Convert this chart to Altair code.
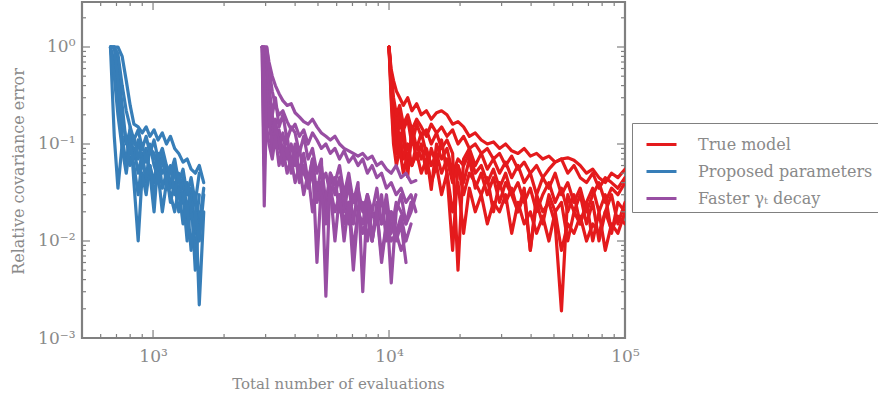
import altair as alt
import pandas as pd

# ---------------- data ----------------
groups = ["True model", "Proposed parameters", "Faster γₜ decay"]
colors = ["#e41a1c", "#377eb8", "#984ea3"]

blue_x = [660, 685, 710, 740, 770, 800, 830, 865, 900, 935, 970, 1010, 1050,
          1095, 1140, 1185, 1235, 1285, 1340, 1395, 1450, 1510, 1570, 1640]
blue_runs = [
    [1.0, 1.0, 1.0, 0.80, 0.45, 0.25, 0.16, 0.15, 0.13, 0.15, 0.12, 0.14, 0.11, 0.13, 0.10, 0.12, 0.09, 0.08, 0.065, 0.07, 0.055, 0.05, 0.06, 0.04],
    [1.0, 0.12, 0.035, 0.10, 0.12, 0.06, 0.09, 0.05, 0.08, 0.04, 0.10, 0.06, 0.045, 0.08, 0.05, 0.035, 0.06, 0.03, 0.045, 0.02, 0.035, 0.012, 0.03],
    [1.0, 1.0, 0.6, 0.25, 0.10, 0.14, 0.07, 0.11, 0.06, 0.09, 0.05, 0.02, 0.07, 0.05, 0.06, 0.04, 0.05, 0.03, 0.04, 0.015, 0.03, 0.005, 0.02],
    [1.0, 0.7, 0.35, 0.12, 0.06, 0.15, 0.04, 0.01, 0.05, 0.03, 0.06, 0.04, 0.08, 0.035, 0.05, 0.025, 0.04, 0.02, 0.03, 0.01, 0.025, 0.008, 0.015, 0.035],
    [1.0, 1.0, 0.45, 0.18, 0.11, 0.08, 0.12, 0.07, 0.10, 0.065, 0.09, 0.08, 0.055, 0.07, 0.04, 0.06, 0.03, 0.05, 0.025, 0.04, 0.02, 0.03, 0.0022, 0.02],
    [1.0, 0.5, 0.2, 0.09, 0.05, 0.10, 0.06, 0.03, 0.07, 0.045, 0.06, 0.03, 0.05, 0.02, 0.04, 0.03, 0.02, 0.035, 0.015, 0.025, 0.008, 0.02, 0.01, 0.03],
    [1.0, 1.0, 0.85, 0.4, 0.22, 0.15, 0.11, 0.14, 0.09, 0.12, 0.08, 0.11, 0.07, 0.09, 0.06, 0.05, 0.07, 0.04, 0.055, 0.03, 0.045, 0.025, 0.05],
]

purple_x = [2900, 2960, 3030, 3100, 3200, 3300, 3420, 3550, 3700, 3850, 4000, 4170,
            4350, 4540, 4740, 4950, 5170, 5400, 5640, 5900, 6170, 6450, 6750, 7060,
            7390, 7740, 8100, 8480, 8880, 9300, 9750, 10220, 10720, 11250, 11800,
            12400, 13000]
purple_runs = [
    [1.0, 1.0, 1.0, 0.7, 0.5, 0.4, 0.33, 0.28, 0.25, 0.26, 0.21, 0.19, 0.17, 0.16, 0.18, 0.15, 0.13, 0.12, 0.11, 0.12, 0.10, 0.09, 0.085, 0.08, 0.075, 0.08, 0.07, 0.075, 0.06, 0.065, 0.055, 0.05, 0.06, 0.045, 0.05, 0.04, 0.042],
    [1.0, 0.023, 0.3, 0.15, 0.2, 0.1, 0.14, 0.08, 0.12, 0.06, 0.1, 0.05, 0.08, 0.04, 0.07, 0.03, 0.06, 0.025, 0.05, 0.03, 0.045, 0.02, 0.04, 0.015, 0.035, 0.02, 0.03, 0.01, 0.025, 0.015, 0.03, 0.012, 0.025, 0.02, 0.015, 0.02, 0.03],
    [1.0, 1.0, 0.5, 0.25, 0.12, 0.18, 0.09, 0.13, 0.07, 0.10, 0.06, 0.09, 0.05, 0.04, 0.07, 0.006, 0.04, 0.05, 0.03, 0.045, 0.02, 0.035, 0.015, 0.03, 0.02, 0.025, 0.01, 0.02, 0.015, 0.03, 0.01, 0.02, 0.012, 0.018, 0.01, 0.015],
    [1.0, 1.0, 0.8, 0.4, 0.2, 0.3, 0.15, 0.2, 0.11, 0.15, 0.13, 0.08, 0.12, 0.07, 0.09, 0.05, 0.07, 0.0027, 0.05, 0.04, 0.06, 0.03, 0.05, 0.025, 0.04, 0.003, 0.03, 0.02, 0.035, 0.015, 0.025, 0.0037, 0.02, 0.03, 0.015, 0.025],
    [1.0, 0.06, 0.4, 0.2, 0.08, 0.15, 0.1, 0.06, 0.09, 0.05, 0.08, 0.04, 0.06, 0.035, 0.05, 0.025, 0.04, 0.02, 0.035, 0.01, 0.03, 0.015, 0.025, 0.008, 0.02, 0.012, 0.018, 0.01, 0.02, 0.007, 0.015, 0.01, 0.012, 0.008, 0.011],
    [1.0, 1.0, 1.0, 0.6, 0.35, 0.25, 0.2, 0.22, 0.17, 0.14, 0.16, 0.12, 0.14, 0.10, 0.13, 0.11, 0.09, 0.1, 0.08, 0.09, 0.07, 0.085, 0.065, 0.075, 0.06, 0.07, 0.05, 0.06, 0.045, 0.05, 0.035, 0.04, 0.03, 0.035, 0.025, 0.03, 0.02],
    [1.0, 0.5, 0.15, 0.1, 0.07, 0.12, 0.06, 0.09, 0.05, 0.07, 0.04, 0.06, 0.03, 0.05, 0.02, 0.04, 0.03, 0.015, 0.035, 0.02, 0.03, 0.01, 0.025, 0.005, 0.02, 0.015, 0.03, 0.01, 0.02, 0.006, 0.015, 0.02, 0.01, 0.015, 0.006],
]

red_x = [10000, 10200, 10450, 10750, 11100, 11500, 12000, 12500, 13100, 13700, 14400,
         15100, 15900, 16700, 17600, 18600, 19600, 20700, 21900, 23200, 24600, 26100,
         27700, 29400, 31200, 33100, 35200, 37400, 39700, 42200, 44800, 47600, 50600,
         53800, 57200, 60800, 64600, 68700, 73000, 77600, 82500, 87700, 93300, 100000]
red_runs = [
    [1.0, 0.6, 0.45, 0.35, 0.3, 0.25, 0.3, 0.22, 0.26, 0.2, 0.22, 0.18, 0.21, 0.22, 0.2, 0.16, 0.17, 0.15, 0.12, 0.13, 0.11, 0.1, 0.105, 0.09, 0.1, 0.085, 0.08, 0.09, 0.075, 0.08, 0.07, 0.075, 0.065, 0.07, 0.072, 0.068, 0.06, 0.05, 0.055, 0.045, 0.04, 0.05, 0.045, 0.055],
    [1.0, 0.35, 0.12, 0.2, 0.08, 0.15, 0.06, 0.12, 0.07, 0.1, 0.05, 0.09, 0.06, 0.11, 0.05, 0.008, 0.06, 0.04, 0.07, 0.035, 0.05, 0.03, 0.045, 0.025, 0.04, 0.03, 0.02, 0.035, 0.008, 0.03, 0.02, 0.025, 0.015, 0.0019, 0.03, 0.02, 0.03, 0.015, 0.025, 0.01, 0.02, 0.03, 0.015, 0.025],
    [1.0, 0.45, 0.2, 0.1, 0.18, 0.12, 0.046, 0.15, 0.09, 0.13, 0.08, 0.034, 0.1, 0.07, 0.09, 0.05, 0.07, 0.06, 0.08, 0.05, 0.06, 0.04, 0.055, 0.035, 0.05, 0.03, 0.04, 0.025, 0.035, 0.02, 0.03, 0.04, 0.025, 0.035, 0.02, 0.03, 0.015, 0.025, 0.035, 0.02, 0.03, 0.012, 0.025, 0.02],
    [1.0, 0.5, 0.25, 0.15, 0.22, 0.14, 0.18, 0.1, 0.16, 0.12, 0.14, 0.1, 0.13, 0.09, 0.11, 0.08, 0.005, 0.07, 0.09, 0.06, 0.08, 0.055, 0.07, 0.05, 0.065, 0.045, 0.06, 0.04, 0.05, 0.03, 0.045, 0.035, 0.05, 0.03, 0.04, 0.025, 0.035, 0.02, 0.03, 0.04, 0.025, 0.035, 0.03, 0.04],
    [1.0, 0.4, 0.15, 0.08, 0.13, 0.07, 0.1, 0.06, 0.08, 0.05, 0.07, 0.04, 0.06, 0.03, 0.05, 0.02, 0.04, 0.012, 0.035, 0.02, 0.03, 0.015, 0.025, 0.02, 0.03, 0.012, 0.025, 0.015, 0.02, 0.012, 0.018, 0.01, 0.02, 0.008, 0.015, 0.012, 0.018, 0.01, 0.015, 0.012, 0.02, 0.013, 0.018, 0.015],
    [1.0, 0.55, 0.3, 0.2, 0.25, 0.16, 0.2, 0.14, 0.18, 0.15, 0.12, 0.16, 0.13, 0.15, 0.12, 0.14, 0.1, 0.12, 0.09, 0.1, 0.08, 0.09, 0.07, 0.08, 0.06, 0.075, 0.055, 0.065, 0.05, 0.06, 0.045, 0.055, 0.065, 0.07, 0.05, 0.06, 0.045, 0.04, 0.05, 0.035, 0.045, 0.04, 0.035, 0.045],
    [1.0, 0.3, 0.1, 0.06, 0.09, 0.05, 0.08, 0.06, 0.1, 0.07, 0.09, 0.06, 0.08, 0.05, 0.07, 0.04, 0.06, 0.03, 0.05, 0.04, 0.03, 0.045, 0.02, 0.04, 0.025, 0.035, 0.02, 0.03, 0.008, 0.025, 0.015, 0.03, 0.02, 0.025, 0.01, 0.02, 0.015, 0.025, 0.01, 0.02, 0.008, 0.015, 0.012, 0.02],
]

x_major = [1000, 10000, 100000]
x_minor = [600, 700, 800, 900, 2000, 3000, 4000, 5000, 6000, 7000, 8000, 9000,
           20000, 30000, 40000, 50000, 60000, 70000, 80000, 90000]
y_major = [1, 0.1, 0.01, 0.001]
y_minor = [2, 0.9, 0.8, 0.7, 0.6, 0.5, 0.4, 0.3, 0.2,
           0.09, 0.08, 0.07, 0.06, 0.05, 0.04, 0.03, 0.02,
           0.009, 0.008, 0.007, 0.006, 0.005, 0.004, 0.003, 0.002]

# ---------------- build ----------------
FONT = "DejaVu Serif"
TXT = "#8a8a8a"
FRAME = "#808080"
W, H = 543, 336


def long_df(name, xs, runs):
    rows = []
    for i, r in enumerate(runs):
        for xv, yv in zip(xs, r):
            rows.append({"x": xv, "y": yv, "group": name, "run": f"{name}-{i}"})
    return pd.DataFrame(rows)


xscale = alt.Scale(type="log", domain=[500, 100000], nice=False)
yscale = alt.Scale(type="log", domain=[0.001, 2.91], nice=False)
cscale = alt.Scale(domain=groups, range=colors)

legend = alt.Legend(
    title=None, orient="none", legendX=550, legendY=121,
    symbolType="stroke", symbolSize=900, symbolStrokeWidth=3,
    labelFont=FONT, labelFontSize=16, labelColor=TXT, labelOffset=20,
    labelLimit=400, rowPadding=2, padding=5, symbolOffset=8,
    strokeColor=FRAME, fillColor="white",
)

xaxis = alt.Axis(
    values=x_major, grid=False, ticks=False, domain=False, labelFlush=False,
    labelExpr="datum.value < 5000 ? '10³' : datum.value < 50000 ? '10⁴' : '10⁵'",
    labelFont=FONT, labelFontSize=17, labelColor=TXT, labelPadding=10,
    title="Total number of evaluations", titleFont=FONT, titleFontSize=15,
    titleFontWeight="normal", titleColor=TXT, titleX=256, titleY=50,
    titleAlign="center", titleBaseline="alphabetic",
)
yaxis = alt.Axis(
    values=y_major, grid=False, ticks=False, domain=False, labelFlush=False,
    labelExpr="datum.value > 0.5 ? '10⁰' : datum.value > 0.05 ? '10⁻¹' : datum.value > 0.005 ? '10⁻²' : '10⁻³'",
    labelFont=FONT, labelFontSize=17, labelColor=TXT, labelPadding=7,
    title="Relative covariance error", titleFont=FONT, titleFontSize=16,
    titleFontWeight="normal", titleColor=TXT, titleX=-64, titleY=169,
    titleAngle=-90, titleAlign="center", titleBaseline="middle",
)

X = lambda f: alt.X(f, scale=xscale, axis=xaxis)
Y = lambda f: alt.Y(f, scale=yscale, axis=yaxis)


def lines(name, xs, runs):
    return alt.Chart(long_df(name, xs, runs)).mark_line(
        strokeWidth=3.2, clip=True, strokeJoin="round", strokeCap="round"
    ).encode(
        x=X("x:Q"), y=Y("y:Q"),
        color=alt.Color("group:N", scale=cscale, legend=legend),
        detail="run:N",
    )


red = lines(groups[0], red_x, red_runs)
blue = lines(groups[1], blue_x, blue_runs)
purple = lines(groups[2], purple_x, purple_runs)


def xticks(vals, length):
    base = alt.Chart(pd.DataFrame({"v": vals})).mark_rule(color=FRAME, strokeWidth=1.2)
    bot = base.encode(x=X("v:Q"), y=alt.value(H), y2=alt.value(H - length))
    top = base.encode(x=X("v:Q"), y=alt.value(0), y2=alt.value(length))
    return [bot, top]


def yticks(vals, length):
    base = alt.Chart(pd.DataFrame({"v": vals})).mark_rule(color=FRAME, strokeWidth=1.2)
    left = base.encode(y=Y("v:Q"), x=alt.value(0), x2=alt.value(length))
    right = base.encode(y=Y("v:Q"), x=alt.value(W), x2=alt.value(W - length))
    return [left, right]


tick_layers = xticks(x_major, 8) + xticks(x_minor, 4) + yticks(y_major, 8) + yticks(y_minor, 4)

chart = alt.layer(red, blue, purple, *tick_layers).properties(
    width=W, height=H,
    padding={"left": 82, "top": 2, "right": 253, "bottom": 58},
    autosize="none",
    background="white",
).configure_view(
    stroke=FRAME, strokeWidth=2.2
)

chart.save("out.html", embed_options={"renderer": "svg", "actions": False})
